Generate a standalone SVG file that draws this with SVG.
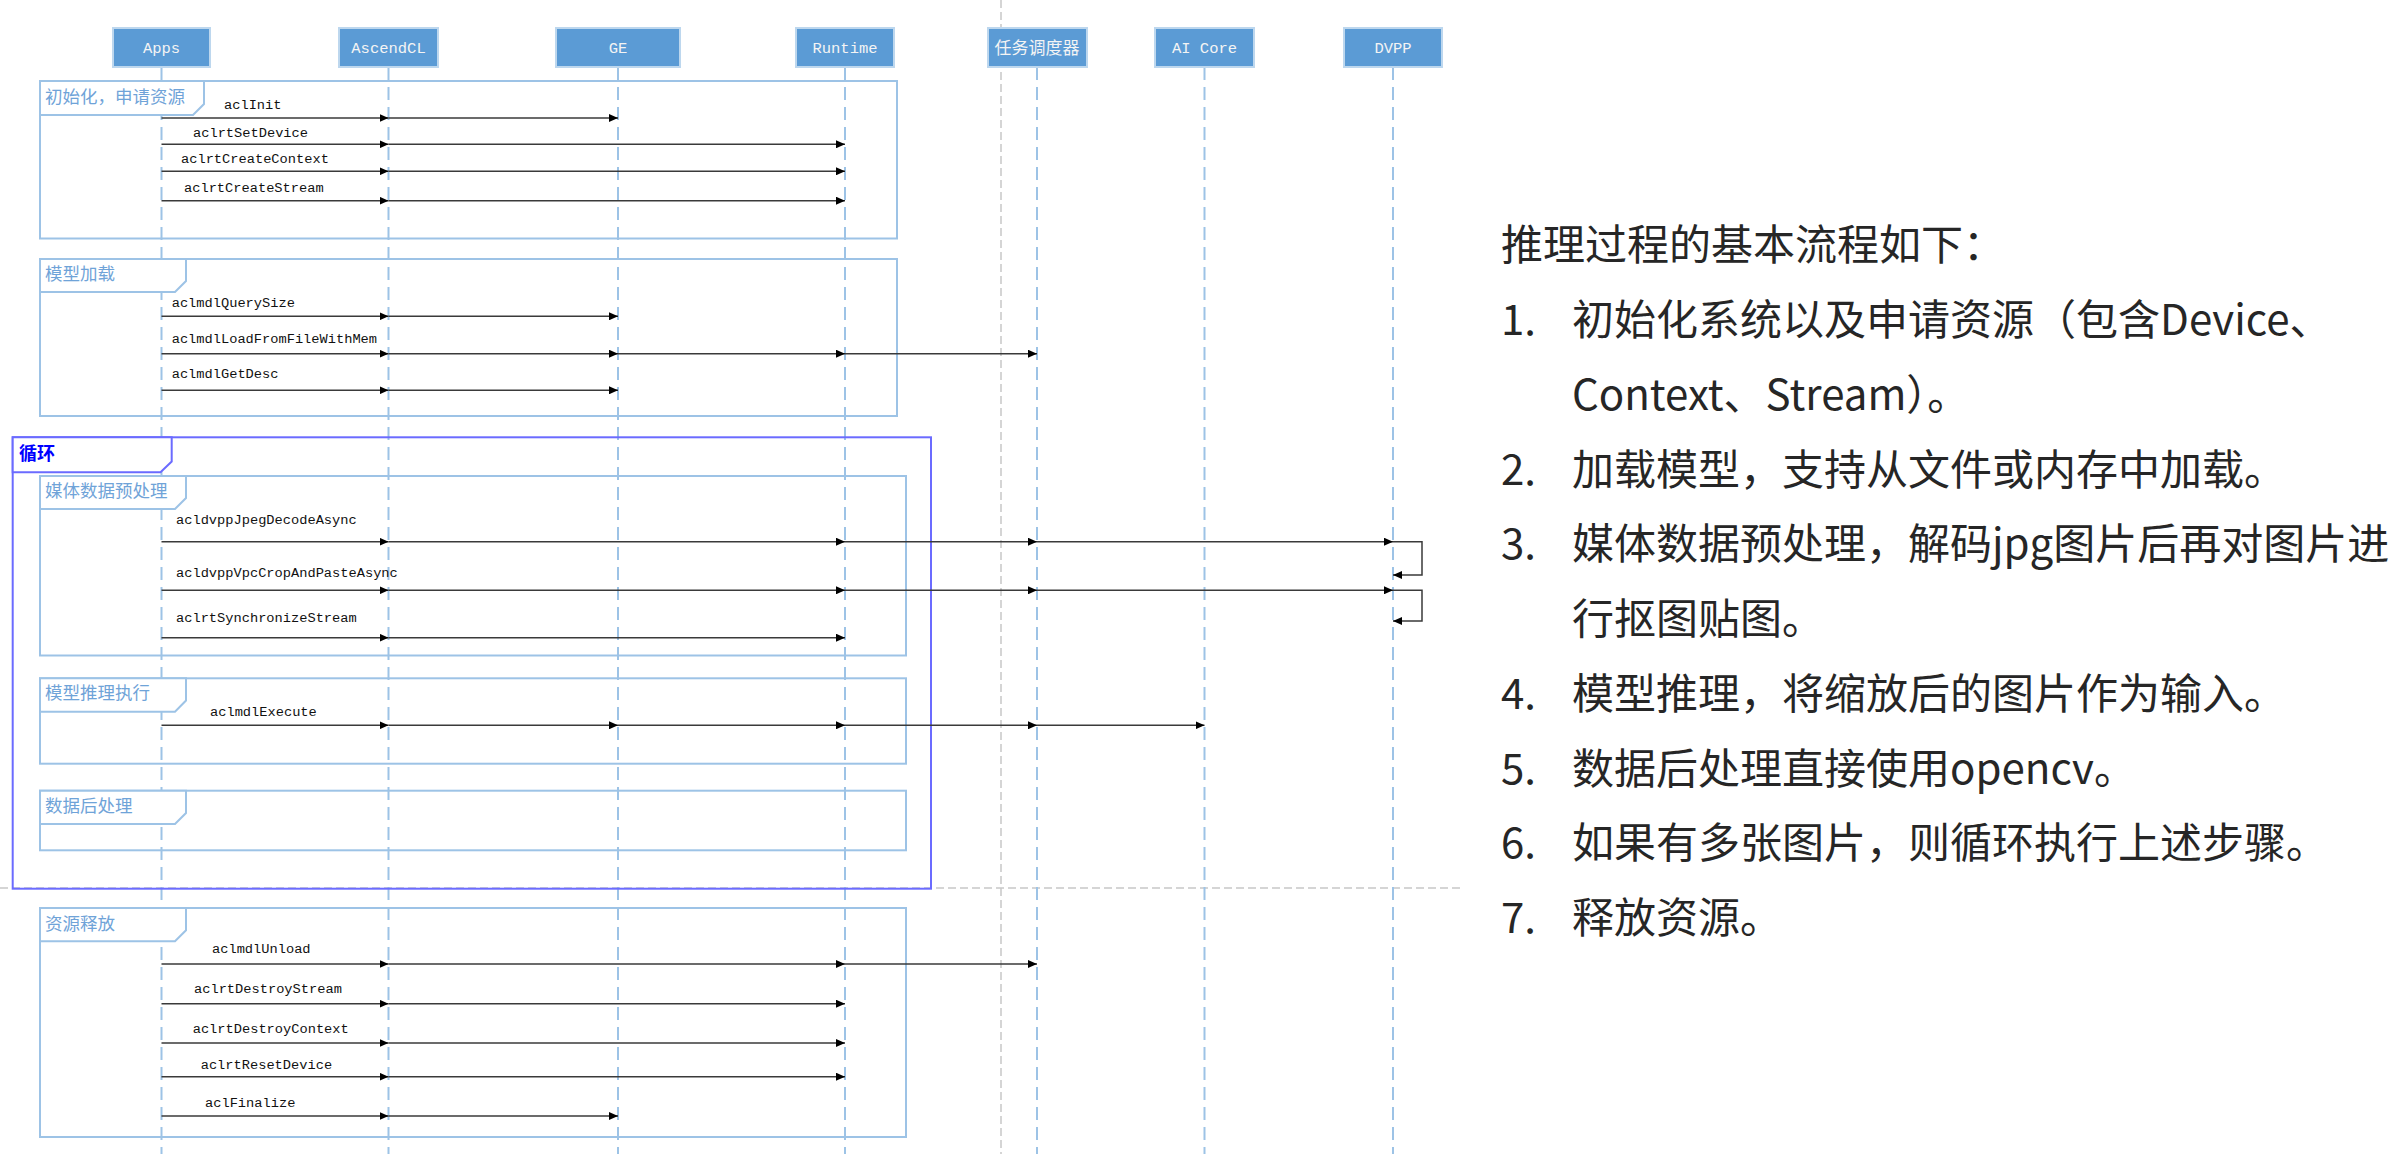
<svg xmlns="http://www.w3.org/2000/svg" width="2402" height="1154" viewBox="0 0 2402 1154">
<defs>
<style>
.box{fill:#5B9BD5;stroke:#BDD7EE;stroke-width:2}
.boxt{font-family:"Liberation Mono",monospace;font-size:15.5px;fill:#F4F4F4;text-anchor:middle}
.boxc{font-family:"Noto Sans CJK SC",sans-serif;font-size:17px;fill:#F4F4F4;text-anchor:middle}
.life{stroke:#9DC3E6;stroke-width:2;stroke-dasharray:13 7;fill:none}
.sep{stroke:#C8C8C8;stroke-width:1.5;stroke-dasharray:8 4;fill:none}
.frame{fill:none;stroke:#9DC3E6;stroke-width:2}
.tab{fill:#fff;stroke:#9DC3E6;stroke-width:2}
.ftxt{font-family:"Noto Sans CJK SC",sans-serif;font-size:17.5px;fill:#6FA3D8}
.loop{fill:none;stroke:#6B6BFF;stroke-width:2}
.looptab{fill:#fff;stroke:#6B6BFF;stroke-width:2}
.looptxt{font-family:"Noto Sans CJK SC",sans-serif;font-size:18px;font-weight:bold;fill:#0000FF}
.msg{stroke:#3A3A3A;stroke-width:1.5;fill:none;marker-end:url(#ah)}
.mt{font-family:"Liberation Mono",monospace;font-size:13.7px;fill:#111}
.rt{font-family:"Noto Sans CJK SC",sans-serif;font-size:42px;fill:#262626}
</style>
<marker id="ah" viewBox="0 0 9 8" refX="9" refY="4" markerWidth="9" markerHeight="8" markerUnits="userSpaceOnUse" orient="auto">
<path d="M0,0 L9,4 L0,8 z" fill="#000"/>
</marker>
</defs>
<rect width="2402" height="1154" fill="#fff"/>

<!-- separators -->
<g id="separators">
<line class="sep" x1="1001" y1="0" x2="1001" y2="1154"/>
<line class="sep" x1="0" y1="888" x2="1462" y2="888"/>
</g>

<!-- lifelines (participants) -->
<g id="lifelines">
<g id="apps"><line class="life" x1="161.5" y1="67" x2="161.5" y2="1154"/><rect class="box" x="113" y="28" width="97" height="39"/><text class="boxt" x="161.5" y="53">Apps</text></g>
<g id="ascendcl"><line class="life" x1="388.5" y1="67" x2="388.5" y2="1154"/><rect class="box" x="339" y="28" width="99" height="39"/><text class="boxt" x="388.5" y="53">AscendCL</text></g>
<g id="ge"><line class="life" x1="618" y1="67" x2="618" y2="1154"/><rect class="box" x="556" y="28" width="124" height="39"/><text class="boxt" x="618" y="53">GE</text></g>
<g id="runtime"><line class="life" x1="845" y1="67" x2="845" y2="1154"/><rect class="box" x="796" y="28" width="98" height="39"/><text class="boxt" x="845" y="53">Runtime</text></g>
<g id="scheduler"><line class="life" x1="1037" y1="67" x2="1037" y2="1154"/><rect class="box" x="988" y="28" width="99" height="39"/><text class="boxc" x="1037" y="53.5">任务调度器</text></g>
<g id="aicore"><line class="life" x1="1204.5" y1="67" x2="1204.5" y2="1154"/><rect class="box" x="1155" y="28" width="99" height="39"/><text class="boxt" x="1204.5" y="53">AI Core</text></g>
<g id="dvpp"><line class="life" x1="1393" y1="67" x2="1393" y2="1154"/><rect class="box" x="1344" y="28" width="98" height="39"/><text class="boxt" x="1393" y="53">DVPP</text></g>
</g>

<!-- frames -->
<g id="frames">
<g id="frame-init"><rect class="frame" x="40" y="81" width="857" height="157.5"/><path class="tab" d="M40,81 H204 V104 L193,115 H40 Z"/><text class="ftxt" x="45" y="103">初始化，申请资源</text></g>
<g id="frame-load"><rect class="frame" x="40" y="259" width="857" height="157"/><path class="tab" d="M40,259 H186 V281 L175,292 H40 Z"/><text class="ftxt" x="45" y="280">模型加载</text></g>
<g id="frame-loop"><rect class="loop" x="12.7" y="437.3" width="918.3" height="451.4"/><path class="looptab" d="M12.7,437.3 H171.7 V461.5 L160.5,472.3 H12.7 Z"/><text class="looptxt" x="19" y="460">循环</text></g>
<g id="frame-pre"><rect class="frame" x="40" y="476" width="866" height="179.5"/><path class="tab" d="M40,476 H186 V498 L175,509 H40 Z"/><text class="ftxt" x="45" y="497">媒体数据预处理</text></g>
<g id="frame-exec"><rect class="frame" x="40" y="678.3" width="866" height="85.4"/><path class="tab" d="M40,678.3 H186 V700.5 L175,711.7 H40 Z"/><text class="ftxt" x="45" y="699">模型推理执行</text></g>
<g id="frame-post"><rect class="frame" x="40" y="790.7" width="866" height="59.6"/><path class="tab" d="M40,790.7 H186 V813 L175,824 H40 Z"/><text class="ftxt" x="45" y="811.5">数据后处理</text></g>
<g id="frame-release"><rect class="frame" x="40" y="908" width="866" height="229"/><path class="tab" d="M40,908 H186 V930.3 L175,941.3 H40 Z"/><text class="ftxt" x="45" y="930">资源释放</text></g>
</g>

<!-- connectors -->
<g id="connectors">
<g id="m-aclInit"><line class="msg" x1="161.5" y1="118" x2="388.5" y2="118"/><line class="msg" x1="388.5" y1="118" x2="618" y2="118"/></g>
<g id="m-setdevice"><line class="msg" x1="161.5" y1="144.3" x2="388.5" y2="144.3"/><line class="msg" x1="388.5" y1="144.3" x2="845" y2="144.3"/></g>
<g id="m-createcontext"><line class="msg" x1="161.5" y1="171.3" x2="388.5" y2="171.3"/><line class="msg" x1="388.5" y1="171.3" x2="845" y2="171.3"/></g>
<g id="m-createstream"><line class="msg" x1="161.5" y1="200.7" x2="388.5" y2="200.7"/><line class="msg" x1="388.5" y1="200.7" x2="845" y2="200.7"/></g>
<g id="m-querysize"><line class="msg" x1="161.5" y1="316.3" x2="388.5" y2="316.3"/><line class="msg" x1="388.5" y1="316.3" x2="618" y2="316.3"/></g>
<g id="m-loadfromfile"><line class="msg" x1="161.5" y1="353.7" x2="388.5" y2="353.7"/><line class="msg" x1="388.5" y1="353.7" x2="618" y2="353.7"/><line class="msg" x1="618" y1="353.7" x2="845" y2="353.7"/><line class="msg" x1="845" y1="353.7" x2="1037" y2="353.7"/></g>
<g id="m-getdesc"><line class="msg" x1="161.5" y1="390.3" x2="388.5" y2="390.3"/><line class="msg" x1="388.5" y1="390.3" x2="618" y2="390.3"/></g>
<g id="m-jpegdecode"><line class="msg" x1="161.5" y1="541.7" x2="388.5" y2="541.7"/><line class="msg" x1="388.5" y1="541.7" x2="845" y2="541.7"/><line class="msg" x1="845" y1="541.7" x2="1037" y2="541.7"/><line class="msg" x1="1037" y1="541.7" x2="1393" y2="541.7"/><path class="msg" d="M1393,541.7 H1422 V575 H1393"/></g>
<g id="m-vpccrop"><line class="msg" x1="161.5" y1="590.3" x2="388.5" y2="590.3"/><line class="msg" x1="388.5" y1="590.3" x2="845" y2="590.3"/><line class="msg" x1="845" y1="590.3" x2="1037" y2="590.3"/><line class="msg" x1="1037" y1="590.3" x2="1393" y2="590.3"/><path class="msg" d="M1393,590.3 H1422 V621 H1393"/></g>
<g id="m-sync"><line class="msg" x1="161.5" y1="637.7" x2="388.5" y2="637.7"/><line class="msg" x1="388.5" y1="637.7" x2="845" y2="637.7"/></g>
<g id="m-execute"><line class="msg" x1="161.5" y1="725.3" x2="388.5" y2="725.3"/><line class="msg" x1="388.5" y1="725.3" x2="618" y2="725.3"/><line class="msg" x1="618" y1="725.3" x2="845" y2="725.3"/><line class="msg" x1="845" y1="725.3" x2="1037" y2="725.3"/><line class="msg" x1="1037" y1="725.3" x2="1204.5" y2="725.3"/></g>
<g id="m-unload"><line class="msg" x1="161.5" y1="964" x2="388.5" y2="964"/><line class="msg" x1="388.5" y1="964" x2="845" y2="964"/><line class="msg" x1="845" y1="964" x2="1037" y2="964"/></g>
<g id="m-destroystream"><line class="msg" x1="161.5" y1="1003.7" x2="388.5" y2="1003.7"/><line class="msg" x1="388.5" y1="1003.7" x2="845" y2="1003.7"/></g>
<g id="m-destroycontext"><line class="msg" x1="161.5" y1="1043" x2="388.5" y2="1043"/><line class="msg" x1="388.5" y1="1043" x2="845" y2="1043"/></g>
<g id="m-resetdevice"><line class="msg" x1="161.5" y1="1076.7" x2="388.5" y2="1076.7"/><line class="msg" x1="388.5" y1="1076.7" x2="845" y2="1076.7"/></g>
<g id="m-finalize"><line class="msg" x1="161.5" y1="1116" x2="388.5" y2="1116"/><line class="msg" x1="388.5" y1="1116" x2="618" y2="1116"/></g>
</g>

<!-- message labels -->
<g id="labels">
<text class="mt" x="224" y="109">aclInit</text>
<text class="mt" x="193" y="137">aclrtSetDevice</text>
<text class="mt" x="181" y="163">aclrtCreateContext</text>
<text class="mt" x="184" y="192">aclrtCreateStream</text>
<text class="mt" x="171.7" y="306.5">aclmdlQuerySize</text>
<text class="mt" x="171.7" y="342.5">aclmdlLoadFromFileWithMem</text>
<text class="mt" x="171.7" y="378">aclmdlGetDesc</text>
<text class="mt" x="176" y="524.3">acldvppJpegDecodeAsync</text>
<text class="mt" x="176" y="576.7">acldvppVpcCropAndPasteAsync</text>
<text class="mt" x="176" y="621.7">aclrtSynchronizeStream</text>
<text class="mt" x="210" y="715.7">aclmdlExecute</text>
<text class="mt" x="212" y="953.3">aclmdlUnload</text>
<text class="mt" x="194" y="992.7">aclrtDestroyStream</text>
<text class="mt" x="192.7" y="1033.3">aclrtDestroyContext</text>
<text class="mt" x="200.7" y="1069.3">aclrtResetDevice</text>
<text class="mt" x="205" y="1106.7">aclFinalize</text>
</g>

<!-- right description -->
<g id="description">
<text class="rt" x="1501" y="260">推理过程的基本流程如下：</text>
<text class="rt" x="1501" y="335">1.</text><text class="rt" x="1572" y="335">初始化系统以及申请资源（包含Device、</text>
<text class="rt" x="1572" y="410">Context、Stream）。</text>
<text class="rt" x="1501" y="485">2.</text><text class="rt" x="1572" y="485">加载模型，支持从文件或内存中加载。</text>
<text class="rt" x="1501" y="559">3.</text><text class="rt" x="1572" y="559">媒体数据预处理，解码jpg图片后再对图片进</text>
<text class="rt" x="1572" y="634">行抠图贴图。</text>
<text class="rt" x="1501" y="709">4.</text><text class="rt" x="1572" y="709">模型推理，将缩放后的图片作为输入。</text>
<text class="rt" x="1501" y="784">5.</text><text class="rt" x="1572" y="784">数据后处理直接使用opencv。</text>
<text class="rt" x="1501" y="858">6.</text><text class="rt" x="1572" y="858">如果有多张图片，则循环执行上述步骤。</text>
<text class="rt" x="1501" y="933">7.</text><text class="rt" x="1572" y="933">释放资源。</text>
</g>
</svg>
